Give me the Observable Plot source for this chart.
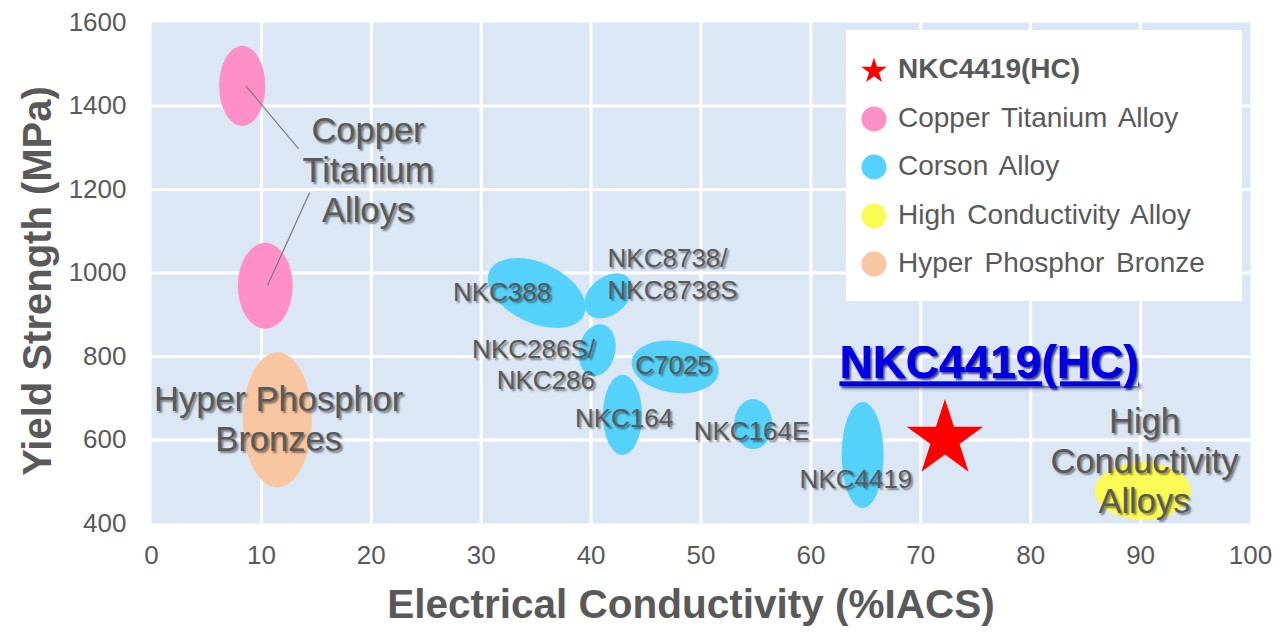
<!DOCTYPE html>
<html>
<head>
<meta charset="utf-8">
<script src="https://cdn.jsdelivr.net/npm/d3@7"></script>
<script src="https://cdn.jsdelivr.net/npm/@observablehq/plot@0.6"></script>
<style>
  body { margin: 0; background: #fff; }
  #wrap { position: relative; width: 1284px; height: 633px; font-family: "Liberation Sans", Arial, sans-serif; }
  .shadow text { text-shadow: 2px 2px 2px rgba(0,0,0,0.45); }
  .highlight text { text-decoration: underline; text-shadow: 2px 2px 2px rgba(0,0,90,0.45); }
  #legend { position: absolute; left: 846px; top: 30px; width: 396px; height: 271px; background: #fff;
    font-size: 28px; color: #595959; }
  .item { position: absolute; left: 0; width: 396px; height: 40px; }
  .item svg { position: absolute; left: 13px; top: 6px; }
  .item span { position: absolute; left: 52px; top: 4px; white-space: nowrap; word-spacing: 4px; }
</style>
</head>
<body>
<div id="wrap"></div>
<script>
// ---- data ----
const groups = ["Copper Titanium Alloy", "Corson Alloy", "High Conductivity Alloy", "Hyper Phosphor Bronze"];
const groupColors = ["#ff8fc8", "#55d2fb", "#fbfb55", "#f8c6a0"];

const regionGroup = ["Copper Titanium Alloy", "Copper Titanium Alloy", "Hyper Phosphor Bronze",
  "Corson Alloy", "Corson Alloy", "Corson Alloy", "Corson Alloy", "Corson Alloy", "Corson Alloy", "Corson Alloy",
  "High Conductivity Alloy"];
const regionName = ["Cu-Ti (high)", "Cu-Ti", "Hyper Phosphor Bronze", "NKC388", "NKC8738", "NKC286S", "C7025",
  "NKC164", "NKC164E", "NKC4419", "High Conductivity"];
const regionIACS = [8.3, 10.4, 11.5, 35.1, 41.6, 40.6, 47.7, 42.9, 54.8, 64.75, 90.25];
const regionMPa = [1447, 968, 647, 951, 944, 814, 774, 659, 637, 563, 477];
const regionIACSHalf = [2.1, 2.5, 3.14, 4.74, 2.46, 1.64, 4.0, 1.78, 1.73, 1.91, 4.37];
const regionMPaHalf = [96, 103, 162, 72, 45, 63, 62, 96, 60, 127, 69];
const regionTilt = [0, 0, 0, 25, -40, 12, 8, 0, 0, 0, 0];

const starName = "NKC4419(HC)";
const starIACS = [72.2];
const starMPa = [602];
const starLabelIACS = 76.2;
const starLabelMPa = 783;

const labelText = ["NKC388", "NKC8738/\nNKC8738S", "NKC286S/\nNKC286", "C7025", "NKC164", "NKC164E", "NKC4419"];
const labelIACS = [31.9, 41.5, 40.35, 47.5, 43.0, 54.6, 64.1];
const labelMPa = [958, 1000, 784, 783, 656, 623, 510];
const labelAnchor = ["middle", "start", "end", "middle", "middle", "middle", "middle"];

const groupLabelText = ["Copper\nTitanium\nAlloys", "Hyper Phosphor\nBronzes", "High\nConductivity\nAlloys"];
const groupLabelIACS = [19.7, 11.57, 90.35];
const groupLabelMPa = [1248, 653, 551];

const leaderFrom = [[8.56, 1449], [14.39, 1193]];
const leaderTo = [[13.37, 1298], [10.56, 970]];

const xTicks = [0, 10, 20, 30, 40, 50, 60, 70, 80, 90, 100];
const yTicks = [400, 600, 800, 1000, 1200, 1400, 1600];

// ---- build tables ----
const regions = regionName.map((n, i) => ({
  name: n, group: regionGroup[i], x: regionIACS[i], y: regionMPa[i],
  rx: regionIACSHalf[i], ry: regionMPaHalf[i], tilt: regionTilt[i]
}));
const labels = labelText.map((t, i) => ({text: t, x: labelIACS[i], y: labelMPa[i], anchor: labelAnchor[i]}));
const groupLabels = groupLabelText.map((t, i) => ({text: t, x: groupLabelIACS[i], y: groupLabelMPa[i]}));
const leaders = leaderFrom.map((f, i) => ({x1: f[0], y1: f[1], x2: leaderTo[i][0], y2: leaderTo[i][1]}));
const star = starIACS.map((x, i) => ({x, y: starMPa[i], name: starName}));
const starLabel = [{x: starLabelIACS, y: starLabelMPa, name: starName}];
const colorOf = Object.fromEntries(groups.map((g, i) => [g, groupColors[i]]));

const gray = "#595959";

function withClass(cls) {
  return function (index, scales, values, dims, context, next) {
    const g = next(index, scales, values, dims, context);
    if (g) g.setAttribute("class", cls);
    return g;
  };
}

function ellipseMark(data) {
  return Plot.dot(data, {
    x: "x", y: "y", fill: d => colorOf[d.group],
    render(index, scales) {
      const g = d3.create("svg:g");
      for (const i of index) {
        const d = data[i];
        const cx = scales.x(d.x), cy = scales.y(d.y);
        const rx = Math.abs(scales.x(d.x + d.rx) - cx);
        const ry = Math.abs(scales.y(d.y + d.ry) - cy);
        g.append("ellipse")
          .attr("cx", cx).attr("cy", cy).attr("rx", rx).attr("ry", ry)
          .attr("transform", `rotate(${d.tilt} ${cx} ${cy})`)
          .attr("fill", colorOf[d.group]);
      }
      return g.node();
    }
  });
}

const labelMarks = ["start", "middle", "end"].map(a =>
  Plot.text(labels.filter(d => d.anchor === a), {x: "x", y: "y", text: "text", textAnchor: a, fontSize: 26,
    fill: gray, lineHeight: 1.2, render: withClass("shadow")}));

const chart = Plot.plot({
  width: 1284,
  height: 633,
  marginLeft: 151,
  marginRight: 34,
  marginTop: 22,
  marginBottom: 110,
  style: {fontFamily: "Liberation Sans, Arial, sans-serif", color: gray, background: "white"},
  x: {domain: [0, 100]},
  y: {domain: [400, 1600]},
  marks: [
    Plot.frame({fill: "#dce7f5", stroke: null}),
    Plot.ruleX(xTicks.slice(1, -1), {stroke: "white", strokeWidth: 3}),
    Plot.ruleY(yTicks.slice(1, -1), {stroke: "white", strokeWidth: 3}),
    Plot.axisX({ticks: xTicks, tickSize: 0, tickPadding: 22, fontSize: 26, label: null, fill: gray,
      tickFormat: d3.format("d")}),
    Plot.axisY({ticks: yTicks, tickSize: 0, tickPadding: 25, fontSize: 26, label: null, fill: gray,
      tickFormat: d3.format("d")}),
    ellipseMark(regions),
    Plot.link(leaders, {x1: "x1", y1: "y1", x2: "x2", y2: "y2", stroke: "#7a7a7a", strokeWidth: 1.2}),
    Plot.dot(star, {x: "x", y: "y", symbol: "star", r: 24, fill: "#ff0000", stroke: null}),
    ...labelMarks,
    Plot.text(groupLabels, {x: "x", y: "y", text: "text", fontSize: 34.5, fill: gray, lineHeight: 1.16,
      render: withClass("shadow")}),
    Plot.text(starLabel, {x: "x", y: "y", text: "name", fontSize: 46, fontWeight: "bold", fill: "#0000e6",
      render: withClass("highlight")}),
    Plot.text(["Electrical Conductivity (%IACS)"], {frameAnchor: "bottom", lineAnchor: "middle", textAnchor: "middle",
      dx: -10, dy: 82, fontSize: 40.5, fontWeight: "bold", fill: gray}),
    Plot.text(["Yield Strength (MPa)"], {frameAnchor: "left", textAnchor: "middle", lineAnchor: "middle",
      dx: -113, dy: 8, rotate: -90, fontSize: 40, fontWeight: "bold", fill: gray})
  ]
});

const wrap = document.getElementById("wrap");
wrap.appendChild(chart);

// legend overlay
const legend = document.createElement("div");
legend.id = "legend";
wrap.appendChild(legend);
const legendNames = [starName].concat(groups);
legendNames.forEach((name, i) => {
  const item = document.createElement("div");
  item.className = "item";
  item.style.top = (19 + i * 48.6) + "px";
  let sym;
  if (i === 0) {
    sym = `<svg width="30" height="30" viewBox="-15 -15 30 30"><path d="${d3.symbol(d3.symbolStar, 13.5 * 13.5 / 0.8908)()}" transform="translate(0,1)" fill="#ff0000"/></svg>`;
  } else {
    sym = `<svg width="30" height="30" viewBox="-15 -15 30 30"><circle r="12.5" fill="${groupColors[i - 1]}"/></svg>`;
  }
  item.innerHTML = sym + `<span style="${i === 0 ? "font-weight:bold" : ""}">${name}</span>`;
  legend.appendChild(item);
});
</script>
</body>
</html>
